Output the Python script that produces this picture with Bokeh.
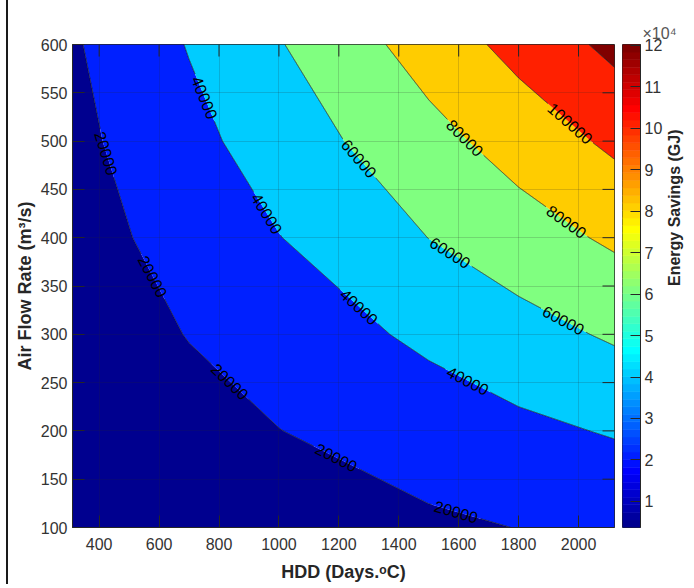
import numpy as np
from bokeh.plotting import figure
from bokeh.layouts import row
from bokeh.models import Range1d, FixedTicker, Div
from bokeh.embed import file_html
from bokeh.resources import INLINE
from bokeh.core.properties import value
from contourpy import contour_generator

# ---------------- data ----------------
HDD = [311, 700, 1000, 1500, 1800, 2120]          # Days.oC (grid columns)
FLOW = [100, 200, 300, 400, 500, 600]             # m3/s (grid rows)
SAV_100 = [3700, 7900, 11300, 16800, 20300, 23700]
SAV_200 = [6200, 13800, 19700, 29850, 35730, 41500]
SAV_300 = [9400, 20600, 29250, 43780, 52800, 62480]
SAV_400 = [11960, 27520, 39520, 60180, 71100, 83180]
SAV_500 = [15000, 34380, 49490, 73670, 88130, 103900]
SAV_600 = [17900, 41010, 58815, 88490, 106290, 125000]
LEVELS = [20000, 40000, 60000, 80000, 100000, 120000]
XTICKS = [400, 600, 800, 1000, 1200, 1400, 1600, 1800, 2000]
YTICKS = [100, 150, 200, 250, 300, 350, 400, 450, 500, 550, 600]
CBAR_TICKS = [10000, 20000, 30000, 40000, 50000, 60000, 70000, 80000, 90000, 100000, 110000, 120000]
CBAR_LABELS = ["1", "2", "3", "4", "5", "6", "7", "8", "9", "10", "11", "12"]
CBAR_HIGH = 120200

# ---------------- styles ----------------
FILL_COLORS = ["#00008F", "#0020FF", "#00CCFF", "#80FF80", "#FFCC00", "#FF2000", "#800000"]
FRAME_W, FRAME_H = 542, 483
FONT = "Liberation Sans"
LAB_FS = 16
FIRST, SPACING = 57, 132
LABEL_FROM_TOP = [40000]
AX_COL = "#262626"
TICK_COL = "#333333"
TICK_LEN = 12
TOP_B, BOT_B = 44, 57


def jet(n=64):
    m = int(np.ceil(n / 4))
    u = np.concatenate([np.arange(1, m + 1) / m, np.ones(m - 1), np.arange(m, 0, -1) / m])
    g = int(np.ceil(m / 2)) - (1 if n % 4 == 1 else 0) + np.arange(1, len(u) + 1)
    r = g + m
    b = g - m
    J = np.zeros((n, 3))
    for idx, col in ((r, 0), (g, 1), (b, 2)):
        mask = (idx >= 1) & (idx <= n)
        J[idx[mask] - 1, col] = u[mask]
    return ["#%02x%02x%02x" % tuple(int(round(c * 255)) for c in row_) for row_ in J]


Z = np.array([SAV_100, SAV_200, SAV_300, SAV_400, SAV_500, SAV_600], dtype=float)
x0, x1 = HDD[0], HDD[-1]
y0, y1 = FLOW[0], FLOW[-1]

p = figure(frame_width=FRAME_W, frame_height=FRAME_H,
           x_range=Range1d(x0, x1), y_range=Range1d(y0, y1),
           output_backend="svg", toolbar_location=None, margin=0,
           min_border_left=64, min_border_top=TOP_B, min_border_bottom=BOT_B, min_border_right=1,
           background_fill_color="white", border_fill_color="white")

fill_levels = [Z.min() - 1] + LEVELS + [Z.max() + 1]
p.contour(HDD, FLOW, Z, fill_levels, fill_color=FILL_COLORS, line_color=None)

# ---------- contour lines with inline labels ----------
cg = contour_generator(x=np.array(HDD, float), y=np.array(FLOW, float), z=Z, line_type="Separate")


def to_s(pts):
    return np.column_stack([(pts[:, 0] - x0) / (x1 - x0) * FRAME_W,
                            (pts[:, 1] - y0) / (y1 - y0) * FRAME_H])


def to_d(px, py):
    return x0 + px / FRAME_W * (x1 - x0), y0 + py / FRAME_H * (y1 - y0)


line_xs, line_ys = [], []
lab_x, lab_y, lab_t, lab_a = [], [], [], []
for L in LEVELS:
    for seg in cg.lines(L):
        sp = to_s(np.asarray(seg, float))
        d = np.hypot(*np.diff(sp, axis=0).T)
        keepv = np.concatenate([[True], d > 1e-9])
        sp = sp[keepv]
        if len(sp) < 2:
            continue
        a, b = sp[0], sp[-1]
        if (b[0] - b[1]) > (a[0] - a[1]):
            sp = sp[::-1]
        if L in LABEL_FROM_TOP:
            sp = sp[::-1]
        d = np.hypot(*np.diff(sp, axis=0).T)
        s = np.concatenate([[0], np.cumsum(d)])
        total = s[-1]
        txt = str(L)
        hw = len(txt) * 0.556 * LAB_FS / 2 + 3
        centers = []
        c = FIRST
        while c <= total - 45:
            centers.append(c)
            c += SPACING
        ss = np.unique(np.concatenate([np.arange(0, total, 0.5), s]))
        px = np.interp(ss, s, sp[:, 0])
        py = np.interp(ss, s, sp[:, 1])
        keep = np.ones(len(ss), bool)
        for c in centers:
            keep &= np.abs(ss - c) > hw
        run = []
        for i in range(len(ss)):
            if keep[i]:
                run.append(i)
            else:
                if len(run) > 1:
                    dx, dy = to_d(px[run], py[run])
                    line_xs.append(list(dx)); line_ys.append(list(dy))
                run = []
        if len(run) > 1:
            dx, dy = to_d(px[run], py[run])
            line_xs.append(list(dx)); line_ys.append(list(dy))
        for c in centers:
            cx, cy = np.interp(c, s, sp[:, 0]), np.interp(c, s, sp[:, 1])
            ax_, ay_ = np.interp(c - 14, s, sp[:, 0]), np.interp(c - 14, s, sp[:, 1])
            bx_, by_ = np.interp(c + 14, s, sp[:, 0]), np.interp(c + 14, s, sp[:, 1])
            ang = np.arctan2(by_ - ay_, bx_ - ax_)
            if ang > np.pi / 2:
                ang -= np.pi
            if ang < -np.pi / 2:
                ang += np.pi
            dx, dy = to_d(cx, cy)
            lab_x.append(dx); lab_y.append(dy); lab_t.append(txt); lab_a.append(float(ang))

p.multi_line(line_xs, line_ys, line_color="#1a1a1a", line_width=0.8)
p.text(x=lab_x, y=lab_y, text=lab_t, angle=lab_a, text_align="center", text_baseline="middle",
       text_font=value(FONT), text_font_size=f"{LAB_FS}px", text_color="black")

# ---------- ticks on top and right edges (box) ----------
dy_t = TICK_LEN / FRAME_H * (y1 - y0)
dx_t = TICK_LEN / FRAME_W * (x1 - x0)
p.segment(x0=XTICKS, y0=[y1] * len(XTICKS), x1=XTICKS, y1=[y1 - dy_t] * len(XTICKS),
          line_color=AX_COL, line_width=1)
p.segment(x0=[x1] * len(YTICKS), y0=YTICKS, x1=[x1 - dx_t] * len(YTICKS), y1=YTICKS,
          line_color=AX_COL, line_width=1)

# ---------- axes ----------
p.xaxis.ticker = FixedTicker(ticks=XTICKS)
p.yaxis.ticker = FixedTicker(ticks=YTICKS)
for ax in (p.xaxis[0], p.yaxis[0]):
    ax.major_tick_in = TICK_LEN
    ax.major_tick_out = 0
    ax.minor_tick_line_color = None
    ax.axis_line_color = AX_COL
    ax.major_tick_line_color = AX_COL
    ax.major_label_text_font = FONT
    ax.major_label_text_font_size = "16px"
    ax.major_label_text_color = TICK_COL
    ax.axis_label_text_font = FONT
    ax.axis_label_text_font_style = "bold"
    ax.axis_label_text_font_size = "18px"
    ax.axis_label_text_color = AX_COL
p.xaxis.major_label_standoff = 10
p.xaxis.axis_label_standoff = 9
p.yaxis.major_label_standoff = 5
p.yaxis.axis_label_standoff = 3
p.xaxis.axis_label = "HDD (Days.\u1d52C)"
p.yaxis.axis_label = "Air Flow Rate (m\u00b3/s)"

p.xgrid.ticker = FixedTicker(ticks=XTICKS)
p.ygrid.ticker = FixedTicker(ticks=YTICKS)
p.grid.grid_line_color = "#262626"
p.grid.grid_line_alpha = 0.18
p.grid.level = "overlay"
p.outline_line_color = AX_COL
p.outline_line_width = 1

# ---------- colour bar (own small figure) ----------
JET = jet(64)
lo, hi = Z.min(), CBAR_HIGH
cb = figure(frame_width=18, frame_height=FRAME_H, x_range=Range1d(0, 1), y_range=Range1d(lo, hi),
            x_axis_location=None, y_axis_location="right",
            output_backend="svg", toolbar_location=None, margin=0,
            min_border_left=7, min_border_top=TOP_B, min_border_bottom=BOT_B, min_border_right=2,
            background_fill_color="white", border_fill_color="white")
edges = np.linspace(lo, hi, len(JET) + 1)
cb.quad(left=0, right=1, bottom=edges[:-1], top=edges[1:], fill_color=JET, line_color=JET,
        line_width=0.6)
cb.grid.visible = False
cb.outline_line_color = AX_COL
ya = cb.yaxis[0]
ya.ticker = FixedTicker(ticks=CBAR_TICKS)
ya.major_label_overrides = dict(zip(CBAR_TICKS, CBAR_LABELS))
ya.major_tick_in = 10
ya.major_tick_out = 0
ya.minor_tick_line_color = None
ya.axis_line_color = AX_COL
ya.major_tick_line_color = AX_COL
ya.major_label_standoff = 4
ya.major_label_text_font = FONT
ya.major_label_text_font_size = "16px"
ya.major_label_text_color = TICK_COL
ya.axis_label = "Energy Savings (GJ)"
ya.axis_label_standoff = 9
ya.axis_label_orientation = np.pi / 2
ya.axis_label_text_font = FONT
ya.axis_label_text_font_style = "bold"
ya.axis_label_text_font_size = "16px"
ya.axis_label_text_color = AX_COL

cb.title.text = "\u00d710\u2074"
cb.title.align = "left"
cb.title.offset = 20
cb.title.standoff = 6
cb.title.text_font = FONT
cb.title.text_font_size = "16px"
cb.title.text_font_style = "normal"
cb.title.text_color = "#555555"

edge = Div(text="", width=8, height=TOP_B + FRAME_H + BOT_B, margin=0,
           styles={"border-right": "2px solid #1a1a1a", "box-sizing": "border-box"})

layout = row(edge, p, cb, spacing=0)
open("out.html", "w").write(file_html(layout, INLINE))
